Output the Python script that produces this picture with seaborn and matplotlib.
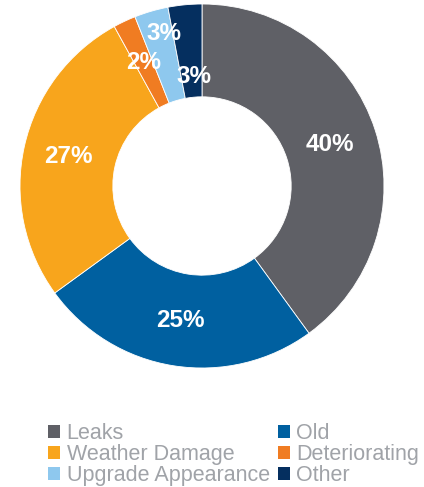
import matplotlib
matplotlib.use("Agg")
import matplotlib.pyplot as plt
import seaborn as sns
from matplotlib.patches import Patch
import numpy as np

categories = ["Leaks", "Old", "Weather Damage", "Deteriorating", "Upgrade Appearance", "Other"]
values = [40, 25, 27, 2, 3, 3]
labels = ["40%", "25%", "27%", "2%", "3%", "3%"]
colors = ["#5f6066", "#0060a0", "#f8a51c", "#f07c22", "#8ec8ee", "#052f5f"]
# label placement (radius as fraction, angular nudge in degrees)
label_r = [0.74, 0.75, 0.75, 0.75, 0.866, 0.606]
label_da = [0, 0, 0, 0, -2.3, -1.2]

sns.set_theme(style="white")
plt.rcParams['font.family'] = ['Liberation Sans', 'DejaVu Sans']

fig = plt.figure(figsize=(4.24, 4.87), dpi=100)
ax = fig.add_axes([20/424, 119/487, 364/424, 364/487])
wedges, _ = ax.pie(values, colors=colors, startangle=90, counterclock=False,
                   radius=1, wedgeprops=dict(width=0.51, edgecolor='white', linewidth=0.6))
ax.set_xlim(-1, 1)
ax.set_ylim(-1, 1)

for w, lab, r, da in zip(wedges, labels, label_r, label_da):
    ang = np.deg2rad((w.theta1 + w.theta2) / 2 + da)
    ax.text(r*np.cos(ang), r*np.sin(ang), lab, ha='center', va='center',
            color='white', fontsize=17.5, fontweight='bold')

order = [0, 2, 4, 1, 3, 5]
handles = [Patch(facecolor=colors[i], edgecolor='none') for i in order]
fig.legend(handles, [categories[i] for i in order], ncol=2, loc='upper left',
           bbox_to_anchor=(48/424, 1 - 423/487), frameon=False, fontsize=15.5,
           labelcolor='#a0a3a8', handlelength=0.56, handleheight=0.56,
           handletextpad=0.3, columnspacing=0.37, labelspacing=0.0,
           borderaxespad=0, borderpad=0)

fig.savefig("out.png", dpi=100)
